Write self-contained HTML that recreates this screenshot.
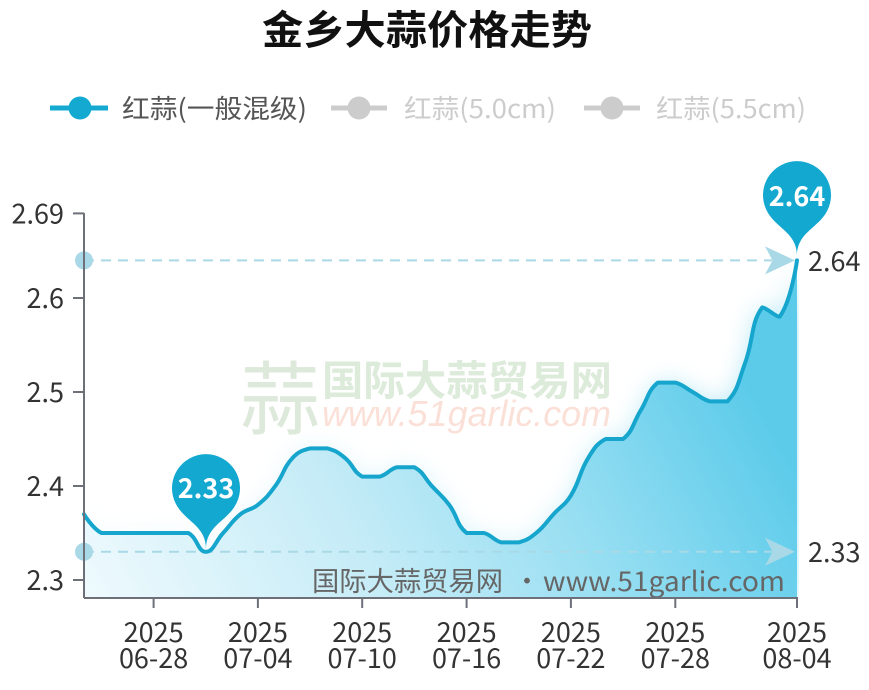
<!DOCTYPE html>
<html><head><meta charset="utf-8">
<style>
html,body{margin:0;padding:0;background:#fff;}
svg{display:block;}
text{font-family:"Noto Sans CJK SC","Liberation Sans",sans-serif;}
</style></head>
<body>
<svg width="869" height="690" viewBox="0 0 869 690" xmlns="http://www.w3.org/2000/svg">
<defs>
 <linearGradient id="fillg" gradientUnits="userSpaceOnUse" x1="84" y1="640" x2="700" y2="300">
  <stop offset="0" stop-color="#f2fbfe"/>
  <stop offset="0.4" stop-color="#c6ecf7"/>
  <stop offset="0.7" stop-color="#96def2"/>
  <stop offset="1" stop-color="#5ccbea"/>
 </linearGradient>
 <filter id="blur" x="-20%" y="-40%" width="140%" height="180%"><feGaussianBlur stdDeviation="12"/></filter>
 <clipPath id="plot"><rect x="85" y="150" width="714" height="447"/></clipPath>
</defs>

<!-- Title -->
<text x="262" y="44" font-size="40" font-weight="bold" textLength="330" lengthAdjust="spacingAndGlyphs" fill="#111">金乡大蒜价格走势</text>

<!-- Legend -->
<line x1="50" y1="108" x2="108" y2="108" stroke="#14a9d0" stroke-width="5"/>
<circle cx="80" cy="108" r="11.5" fill="#14a9d0"/>
<text x="122" y="118" font-size="26" fill="#555" textLength="185" lengthAdjust="spacingAndGlyphs">红蒜(一般混级)</text>

<line x1="331" y1="108" x2="387" y2="108" stroke="#cccccc" stroke-width="5"/>
<circle cx="359" cy="108" r="11.5" fill="#cccccc"/>
<text x="404" y="118" font-size="26" fill="#cccccc" textLength="152" lengthAdjust="spacingAndGlyphs">红蒜(5.0cm)</text>

<line x1="584" y1="108" x2="640" y2="108" stroke="#cccccc" stroke-width="5"/>
<circle cx="612" cy="108" r="11.5" fill="#cccccc"/>
<text x="656" y="118" font-size="26" fill="#cccccc" textLength="150" lengthAdjust="spacingAndGlyphs">红蒜(5.5cm)</text>

<!-- Area fill -->
<g clip-path="url(#plot)">
 <path id="ar2" d="" fill="url(#fillg)" opacity="0.45" filter="url(#blur)"/>
 <path id="ar" d="" fill="url(#fillg)"/>
</g>

<!-- Watermark -->
<text x="240" y="428" font-size="80" fill="#dde9da">蒜</text>
<text x="322" y="395" font-size="41" font-weight="bold" fill="#d9e9d7" textLength="290" lengthAdjust="spacingAndGlyphs" opacity="0.9">国际大蒜贸易网</text>
<text x="322" y="426" font-size="36" font-style="italic" fill="#fbe0d8" textLength="289" lengthAdjust="spacingAndGlyphs" style="font-family:'Liberation Sans',sans-serif;">www.51garlic.com</text>

<!-- Bottom source text -->
<text x="312" y="591" font-size="27" fill="#666" textLength="191" lengthAdjust="spacingAndGlyphs">国际大蒜贸易网</text>
<text x="527" y="591" font-size="27" fill="#666" text-anchor="middle">·</text>
<text x="543" y="591" font-size="27" fill="#666" textLength="242" lengthAdjust="spacingAndGlyphs">www.51garlic.com</text>

<!-- Mark lines -->
<line x1="84" y1="260.4" x2="772" y2="260.4" stroke="#a9d9e6" stroke-width="2" stroke-dasharray="10,7"/>
<path d="M795,260.4 L765,246.4 L772.5,260.4 L765,274.4 Z" fill="#a9d9e6"/>
<circle cx="84" cy="260.4" r="9" fill="#a9d9e6"/>
<line x1="84" y1="551.8" x2="772" y2="551.8" stroke="#a9d9e6" stroke-width="2" stroke-dasharray="10,7"/>
<path d="M795,551.8 L765,537.8 L772.5,551.8 L765,565.8 Z" fill="#a9d9e6"/>
<circle cx="84" cy="551.8" r="9" fill="#a9d9e6"/>
<text x="808" y="271" font-size="27" fill="#333">2.64</text>
<text x="808" y="562" font-size="27" fill="#333">2.33</text>

<!-- Series line -->
<path id="ln" d="" fill="none" stroke="#16a5cc" stroke-width="4" stroke-linejoin="round" stroke-linecap="round"/>

<!-- Axes -->
<g stroke="#6e7079" stroke-width="2" fill="none">
 <line x1="84" y1="213" x2="84" y2="598"/>
 <line x1="84" y1="598" x2="798" y2="598"/>
 <line x1="73" y1="213.4" x2="84" y2="213.4"/>
 <line x1="73" y1="298" x2="84" y2="298"/>
 <line x1="73" y1="392" x2="84" y2="392"/>
 <line x1="73" y1="486" x2="84" y2="486"/>
 <line x1="73" y1="580" x2="84" y2="580"/>
 <line x1="153.6" y1="598" x2="153.6" y2="608"/>
 <line x1="257.9" y1="598" x2="257.9" y2="608"/>
 <line x1="362.2" y1="598" x2="362.2" y2="608"/>
 <line x1="466.6" y1="598" x2="466.6" y2="608"/>
 <line x1="570.9" y1="598" x2="570.9" y2="608"/>
 <line x1="675.3" y1="598" x2="675.3" y2="608"/>
 <line x1="797" y1="598" x2="797" y2="608"/>
</g>

<!-- Y labels -->
<g font-size="27" fill="#333" text-anchor="end">
 <text x="64" y="223.4">2.69</text>
 <text x="64" y="308">2.6</text>
 <text x="64" y="402">2.5</text>
 <text x="64" y="496">2.4</text>
 <text x="64" y="590">2.3</text>
</g>

<!-- X labels -->
<g font-size="27" fill="#333" text-anchor="middle">
 <text x="153.6" y="642">2025</text><text x="153.6" y="668">06-28</text>
 <text x="257.9" y="642">2025</text><text x="257.9" y="668">07-04</text>
 <text x="362.2" y="642">2025</text><text x="362.2" y="668">07-10</text>
 <text x="466.6" y="642">2025</text><text x="466.6" y="668">07-16</text>
 <text x="570.9" y="642">2025</text><text x="570.9" y="668">07-22</text>
 <text x="675.3" y="642">2025</text><text x="675.3" y="668">07-28</text>
 <text x="797" y="642">2025</text><text x="797" y="668">08-04</text>
</g>

<!-- Pins -->
<path transform="translate(206,549)" d="M-30.4,-45.6 A34,34 0 1 1 30.4,-45.6 C21.3,-27.4 0,-23.8 0,0 C0,-23.8 -21.3,-27.4 -30.4,-45.6 Z" fill="#12a8d0"/>
<text x="206" y="498" font-size="27" font-weight="600" fill="#fff" text-anchor="middle">2.33</text>
<path transform="translate(797,256)" d="M-30.4,-45.6 A34,34 0 1 1 30.4,-45.6 C21.3,-27.4 0,-23.8 0,0 C0,-23.8 -21.3,-27.4 -30.4,-45.6 Z" fill="#12a8d0"/>
<text x="797" y="206" font-size="27" font-weight="600" fill="#fff" text-anchor="middle">2.64</text>
</svg>

<script>
(function(){
 var vals=[2.37,2.35,2.35,2.35,2.35,2.35,2.35,2.33,2.35,2.37,2.38,2.40,2.43,2.44,2.44,2.43,2.41,2.41,2.42,2.42,2.40,2.38,2.35,2.35,2.34,2.34,2.35,2.37,2.39,2.43,2.45,2.45,2.48,2.51,2.51,2.50,2.49,2.49,2.53,2.59,2.58,2.64];
 var pts=vals.map(function(v,i){return [84+713/41*i, 580-(v-2.3)*940];});
 function clamp(v,a,b){var lo=Math.min(a,b),hi=Math.max(a,b);return Math.max(lo,Math.min(hi,v));}
 function sp(p,s){
  var d='M'+p[0][0].toFixed(2)+','+p[0][1].toFixed(2);
  var c0x=p[0][0],c0y=p[0][1];
  for(var i=1;i<p.length;i++){
   var x=p[i][0],y=p[i][1],c1x,c1y,n0x,n0y;
   if(i<p.length-1){
    var px=p[i-1][0],py=p[i-1][1],nx=p[i+1][0],ny=p[i+1][1];
    var vx=nx-px,vy=ny-py;
    var l0=Math.hypot(x-px,y-py),l1=Math.hypot(nx-x,ny-y);
    var r=l1/(l0+l1||1);
    n0x=clamp(x+vx*s*r,x,nx); n0y=clamp(y+vy*s*r,y,ny);
    c1x=clamp(x-vx*s*(1-r),px,x); c1y=clamp(y-vy*s*(1-r),py,y);
   } else {c1x=x;c1y=y;n0x=x;n0y=y;}
   d+=' C'+c0x.toFixed(2)+','+c0y.toFixed(2)+' '+c1x.toFixed(2)+','+c1y.toFixed(2)+' '+x.toFixed(2)+','+y.toFixed(2);
   c0x=n0x;c0y=n0y;
  }
  return d;
 }
 var d=sp(pts,0.45);
 document.getElementById('ln').setAttribute('d',d);
 var a=d+' L'+pts[pts.length-1][0].toFixed(2)+',598 L84,598 Z';
 document.getElementById('ar').setAttribute('d',a);
 document.getElementById('ar2').setAttribute('d',a);
})();
</script>
</body></html>
